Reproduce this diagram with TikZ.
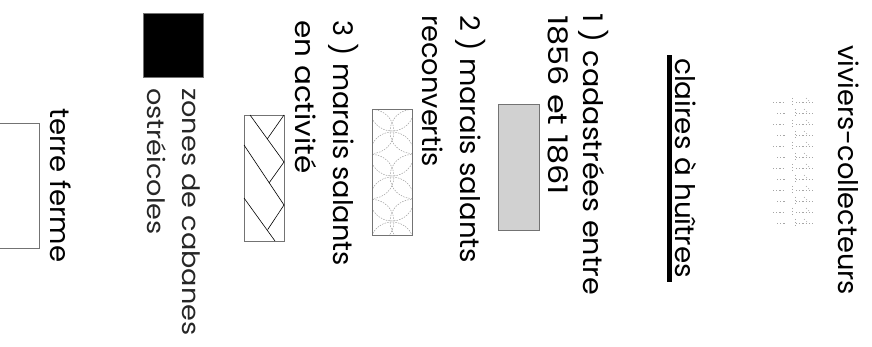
\documentclass[tikz,border=0pt]{standalone}
\usepackage{graphicx}
\usepackage{fontspec}
\setmainfont{Poppins}
\newcommand{\sx}[2]{\scalebox{#1}[1]{#2}}
\begin{document}
\begin{tikzpicture}[x=1pt,y=-1pt,
  lbl/.style={rotate=-90,anchor=base west,inner sep=0pt,font=\fontsize{27}{30}\selectfont},
  sublbl/.style={lbl,font=\fontsize{24}{26}\selectfont,text=black!85},
  box/.style={draw=black!55,line width=0.8pt},
  scaleln/.style={draw=black!45,line width=0.4pt,dash pattern=on 1.5pt off 1.2pt},
  vmark/.style={draw=black!35,line width=0.4pt,dash pattern=on 1.2pt off 2pt}]
\useasboundingbox (0,0) rectangle (872,347);

% viviers-collecteurs
\node[lbl] (viv) at (838,45) {\sx{1.01}{viviers-collecteurs}};
\foreach \k in {0,...,11} {
  \pgfmathsetmacro\yy{102+11*\k}
  \pgfmathsetmacro\ya{\yy-4}
  \pgfmathsetmacro\yb{\yy+3}
  \pgfmathsetmacro\xa{773+4*mod(\k,2)}
  \pgfmathsetmacro\xb{792+3*mod(\k,2)}
  \pgfmathsetmacro\xc{806-2*mod(\k,2)}
  \draw[vmark] (\xa,\yy) -- (785,\yy);
  \draw[vmark] (796,\yy) -- (815,\yy);
  \draw[vmark] (\xb,\ya) -- (\xb,\yb);
  \draw[vmark] (\xc,\ya) -- (\xc+3,\yy-1);
}

% claires a huitres
\node[lbl] (claires) at (675,58) {\sx{1.03}{claires à huîtres}};
\fill (667,55) rectangle (672,282);

% 1)
\node[lbl] (l1a) at (583,13) {\sx{1.06}{1 ) cadastrées entre}};
\node[lbl] (l1b) at (548,15) {\sx{1.18}{1856 et 1861}};
\draw[box,fill=black!18] (498,104) rectangle (539,230);

% 2)
\node[lbl] (l2a) at (460,15) {\sx{1.02}{2 ) marais salants}};
\node[lbl] (l2b) at (422,15) {\sx{1.01}{reconvertis}};
\begin{scope}
  \clip (372,109) rectangle (412,235);
  \foreach \k in {0,...,3} {
    \pgfmathsetmacro\ca{109+45*\k}
    \pgfmathsetmacro\cb{131.5+45*\k}
    \draw[scaleln] (392,\ca) circle [radius=22pt];
    \draw[scaleln] (372,\cb) circle [radius=22pt];
    \draw[scaleln] (412,\cb) circle [radius=22pt];
  }
\end{scope}
\draw[box] (372,109) rectangle (412,235);

% 3)
\node[lbl] (l3a) at (333,20) {\sx{1.01}{3 ) marais salants}};
\node[lbl] (l3b) at (295,20) {\sx{1.09}{en activité}};
\draw[box] (244,115) rectangle (284,241);
\draw[line width=0.6pt] (250,115) -- (284,162);
\draw[line width=0.6pt] (284,115) -- (267.3,138.9);
\draw[line width=0.6pt] (244,145) -- (284,205);
\draw[line width=0.6pt] (284,162) -- (269,183);
\draw[line width=0.6pt] (244,198) -- (275,241);
\draw[line width=0.6pt] (284,205) -- (267.7,229.6);

% cabanes
\draw[box,fill=black] (143,13) rectangle (203,77);
\node[sublbl] (cab1) at (182,88) {\sx{1.13}{zones de cabanes}};
\node[sublbl] (cab2) at (147,88) {\sx{1.13}{ostréicoles}};

% terre ferme
\node[lbl] (terre) at (50,108) {\sx{1.02}{terre ferme}};
\draw[box] (-1,123) rectangle (39,248);
\end{tikzpicture}
\end{document}
